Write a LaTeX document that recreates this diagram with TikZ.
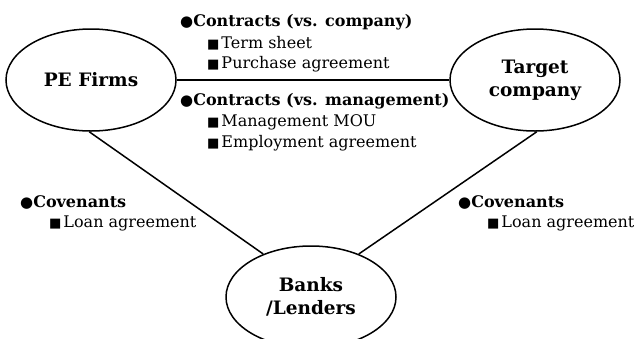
\documentclass[tikz,border=0pt]{standalone}
\usepackage{fontspec}
\setmainfont{DejaVu Serif}
\newfontfamily\symfont{DejaVu Sans}
\usetikzlibrary{shapes.geometric}
\newcommand{\bul}{{\symfont\fontsize{15}{15}\selectfont●}}
\newcommand{\sq}{{\symfont\fontsize{13}{13}\selectfont■}\kern2pt}
\begin{document}
\begin{tikzpicture}[x=1pt,y=-1pt,
  party/.style={draw,line width=1.5pt,ellipse,minimum width=170pt,minimum height=102pt,inner sep=0pt,align=center,font=\fontsize{18.5}{23}\selectfont\bfseries},
  link/.style={line width=1.5pt},
  lbl/.style={anchor=west,inner sep=0pt,font=\fontsize{16}{20}\selectfont,align=left}]
\useasboundingbox[clip] (0,0) rectangle (637,338);
\node[party] (pe) at (91,80) {PE Firms};
\node[party] (tc) at (535,80) {Target\\company};
\node[party] (bk) at (311,297) {Banks\\/Lenders};
\draw[link] (pe) -- (tc);
\draw[link] (pe.-92) -- (bk.138);
\draw[link] (tc.-88) -- (bk.42);
\node[lbl] (c1) at (180,22) {\bul\textbf{Contracts (vs. company)}};
\node[lbl] (c1a) at (207,43) {\sq Term sheet};
\node[lbl] (c1b) at (207,64) {\sq Purchase agreement};
\node[lbl] (c2) at (180,101) {\bul\textbf{Contracts (vs. management)}};
\node[lbl] (c2a) at (207,122) {\sq Management MOU};
\node[lbl] (c2b) at (207,143) {\sq Employment agreement};
\node[lbl] (v1) at (20,202) {\bul\textbf{Covenants}};
\node[lbl] (v1a) at (49,223) {\sq Loan agreement};
\node[lbl] (v2) at (458,202) {\bul\textbf{Covenants}};
\node[lbl] (v2a) at (487,223) {\sq Loan agreement};
\end{tikzpicture}
\end{document}
